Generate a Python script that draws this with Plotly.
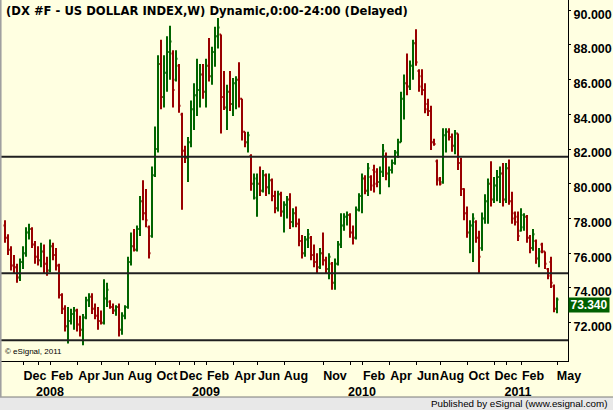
import plotly.graph_objects as go

# Weekly OHLC bars, DX #F (Oct 2007 - May 2011)
opens = [77.6, 76.9, 76.2, 75.3, 75.2, 74.6, 75.5, 76.0, 77.2, 77.4,
         76.5, 75.8, 75.6, 76.1, 75.4, 75.0, 76.4, 75.9, 75.3, 73.6,
         72.8, 71.8, 72.1, 72.5, 72.7, 71.9, 71.6, 72.3, 73.3, 73.5,
         72.8, 72.4, 72.1, 72.0, 73.4, 73.2, 72.9, 72.7, 72.9, 71.6,
         72.4, 72.9, 75.5, 76.4, 76.2, 77.4, 79.0, 78.3, 77.5, 77.0,
         80.5, 82.0, 86.9, 85.0, 86.4, 87.6, 87.5, 86.0, 86.8, 84.0,
         81.9, 81.5, 82.4, 84.3, 85.1, 85.4, 86.3, 85.3, 86.8, 86.2,
         87.6, 88.5, 88.6, 85.0, 84.4, 85.3, 84.6, 85.8, 86.0, 84.9,
         83.0, 82.4, 81.6, 80.0, 79.2, 80.0, 79.6, 80.5, 79.8, 80.2,
         79.3, 78.6, 79.4, 78.4, 78.8, 79.1, 77.8, 78.3, 77.7, 76.7,
         76.0, 76.8, 76.9, 75.9, 75.5, 75.2, 76.0, 75.6, 75.1, 75.4,
         74.3, 75.4, 76.5, 77.6, 78.1, 78.2, 77.2, 76.9, 78.5, 79.3,
         80.3, 79.6, 80.4, 80.8, 80.7, 80.1, 80.7, 81.6, 80.6, 80.8,
         81.2, 81.8, 82.4, 84.9, 85.8, 85.6, 86.8, 88.1, 86.5, 86.2,
         85.4, 84.6, 84.2, 82.4, 81.3, 80.3, 80.1, 82.8, 83.0, 82.7,
         82.2, 82.9, 81.2, 79.7, 78.3, 77.2, 77.6, 77.8, 76.9, 76.3,
         78.0, 79.0, 80.0, 79.1, 79.9, 80.4, 80.6, 79.1, 80.9, 79.0,
         78.3, 78.1, 77.3, 77.5, 78.1, 76.9, 76.3, 76.7, 75.7, 76.5,
         76.1, 75.1, 75.5, 74.1, 72.8]
highs = [77.9, 77.1, 76.4, 75.9, 75.4, 75.7, 76.4, 77.5, 77.7, 77.5,
         76.7, 76.4, 76.6, 76.5, 75.8, 76.8, 76.6, 76.3, 75.4, 73.7,
         73.0, 72.9, 72.8, 72.9, 72.8, 72.4, 72.5, 73.5, 73.7, 73.7,
         73.1, 72.9, 72.7, 74.5, 74.3, 73.3, 73.1, 73.0, 73.1, 72.6,
         73.0, 75.8, 77.2, 77.4, 77.6, 79.3, 80.2, 79.7, 77.6, 81.0,
         83.3, 87.4, 88.3, 87.4, 88.5, 89.1, 87.7, 87.7, 86.9, 84.1,
         82.2, 82.7, 84.8, 85.8, 87.2, 86.9, 86.9, 87.2, 88.4, 87.9,
         89.05, 89.55, 88.6, 86.5, 85.7, 86.5, 86.1, 86.2, 87.0, 84.9,
         83.0, 83.0, 81.7, 80.6, 80.6, 81.0, 80.8, 80.6, 80.6, 80.3,
         79.6, 79.6, 79.55, 79.0, 79.3, 79.45, 78.6, 78.7, 78.0, 77.05,
         77.0, 77.4, 77.0, 76.5, 76.0, 76.3, 77.2, 75.8, 76.0, 75.5,
         75.7, 76.7, 78.3, 78.3, 78.4, 78.3, 77.6, 78.7, 79.45, 80.6,
         80.5, 81.2, 80.5, 81.1, 80.9, 81.0, 82.3, 81.8, 81.0, 81.4,
         81.95, 82.6, 85.3, 86.3, 87.5, 87.1, 88.3, 88.9, 86.6, 86.6,
         85.8, 84.9, 84.5, 82.6, 81.4, 80.4, 83.2, 83.2, 83.2, 82.9,
         83.1, 82.9, 81.5, 79.75, 78.7, 77.9, 78.3, 77.9, 77.3, 78.35,
         79.4, 80.3, 81.3, 80.4, 80.8, 81.0, 81.2, 81.2, 81.4, 79.55,
         78.4, 78.4, 78.6, 78.3, 78.2, 77.05, 77.4, 76.8, 76.3, 76.6,
         76.1, 75.15, 75.8, 74.2, 73.45]
lows = [76.6, 75.9, 75.0, 74.8, 74.3, 74.4, 75.1, 75.8, 76.8, 76.3,
        75.4, 75.3, 75.2, 74.8, 74.7, 74.9, 75.6, 75.0, 73.4, 72.5,
        71.5, 70.8, 71.9, 71.6, 71.5, 71.2, 70.7, 72.2, 72.9, 72.5,
        72.2, 71.6, 71.9, 71.9, 72.9, 72.8, 72.5, 72.4, 71.2, 71.3,
        72.2, 72.8, 75.3, 76.1, 76.1, 77.0, 77.9, 77.5, 75.7, 76.9,
        80.4, 81.8, 84.3, 84.4, 85.3, 86.0, 84.4, 85.9, 84.1, 78.5,
        81.2, 80.1, 82.1, 83.1, 83.9, 84.4, 84.9, 84.4, 85.9, 85.7,
        86.75, 87.8, 82.9, 84.25, 83.1, 84.2, 83.9, 84.3, 84.4, 82.5,
        82.1, 81.8, 79.6, 79.1, 78.1, 79.3, 79.5, 79.3, 79.4, 79.0,
        78.3, 78.4, 78.1, 77.2, 78.0, 77.4, 77.5, 77.5, 76.4, 75.7,
        75.8, 76.3, 75.6, 75.2, 74.85, 75.1, 75.3, 74.85, 74.5, 73.9,
        73.9, 75.3, 76.3, 77.3, 77.6, 76.9, 76.5, 76.8, 78.4, 78.3,
        79.4, 79.3, 79.6, 79.5, 79.8, 79.4, 80.4, 80.2, 79.8, 80.6,
        81.1, 81.5, 82.4, 83.7, 85.1, 85.4, 86.0, 86.8, 85.3, 85.1,
        84.06, 83.9, 81.95, 82.2, 79.9, 79.9, 80.0, 81.8, 82.5, 81.85,
        81.7, 80.8, 79.3, 77.9, 76.9, 76.0, 75.5, 76.6, 74.85, 76.15,
        77.7, 77.7, 78.7, 78.9, 79.0, 78.9, 78.7, 78.9, 78.8, 77.7,
        77.6, 76.7, 77.25, 77.3, 76.6, 76.0, 76.15, 75.4, 75.2, 76.0,
        75.1, 74.5, 74.0, 72.6, 72.55]
closes = [76.9, 76.2, 75.3, 75.2, 74.6, 75.5, 76.0, 77.2, 77.4, 76.5,
          75.8, 75.6, 76.1, 75.4, 75.0, 76.4, 75.9, 75.3, 73.6, 72.8,
          71.8, 72.1, 72.5, 72.7, 71.9, 71.6, 72.3, 73.3, 73.5, 72.8,
          72.4, 72.1, 72.0, 73.4, 73.9, 72.9, 72.7, 72.9, 71.6, 72.4,
          72.9, 75.5, 76.4, 76.2, 77.4, 79.0, 78.3, 77.9, 76.0, 80.5,
          82.0, 86.9, 85.0, 86.4, 87.6, 88.2, 85.4, 87.2, 84.5, 81.9,
          81.5, 82.4, 84.3, 85.1, 85.4, 86.3, 85.3, 86.8, 86.2, 87.6,
          88.5, 89.0, 85.0, 84.4, 85.3, 84.6, 85.8, 86.0, 84.9, 83.0,
          82.4, 82.8, 80.0, 80.3, 80.0, 79.6, 80.5, 79.8, 80.2, 79.3,
          78.6, 79.4, 78.4, 78.8, 79.1, 77.8, 78.3, 77.7, 76.7, 76.0,
          76.8, 77.1, 75.9, 75.5, 75.2, 76.0, 75.6, 75.1, 75.8, 74.3,
          75.4, 76.5, 77.6, 78.1, 78.2, 77.2, 76.9, 78.5, 79.3, 80.3,
          79.6, 80.9, 79.9, 80.0, 80.1, 80.7, 81.9, 80.6, 80.8, 81.2,
          81.8, 82.4, 84.9, 85.8, 85.6, 86.8, 88.1, 87.0, 85.6, 85.4,
          84.3, 84.2, 82.4, 82.3, 80.2, 80.0, 82.8, 83.0, 82.7, 82.2,
          82.9, 81.2, 79.7, 78.3, 77.2, 77.6, 78.0, 76.9, 75.8, 78.0,
          79.0, 80.0, 79.1, 79.9, 80.4, 80.6, 79.1, 80.9, 79.0, 78.0,
          77.8, 77.0, 78.2, 78.1, 76.9, 76.3, 77.1, 75.7, 76.1, 76.1,
          75.4, 74.7, 74.3, 72.8, 73.34]
bar_index = list(range(len(closes)))

# user-drawn horizontal levels
h_levels = [81.56, 74.85, 70.99]

# price axis ticks
y_ticks = [72, 74, 76, 78, 80, 82, 84, 86, 88, 90]
y_ticktext = ["72.000", "74.000", "76.000", "78.000", "80.000",
              "82.000", "84.000", "86.000", "88.000", "90.000"]

# time axis ticks (bar index of first weekly bar of the month)
month_ticks = [6, 15, 24, 32, 41, 50, 58, 67, 76, 84, 93, 106, 119, 128, 137,
               145, 154, 163, 172, 184]
month_text = ["Dec", "Feb", "Apr", "Jun", "Aug", "Oct", "Dec", "Feb", "Apr",
              "Jun", "Aug", "Nov", "Feb", "Apr", "Jun", "Aug", "Oct", "Dec",
              "Feb", "May"]
year_ticks = [11, 63, 115, 167]
year_text = ["2008", "2009", "2010", "2011"]

last_price = closes[-1]
title_text = "(DX #F - US DOLLAR INDEX,W) Dynamic,0:00-24:00 (Delayed)"

GREEN = "#006400"
RED = "#990000"
BG = "#FFFFE1"

ticks = sorted([(v, t) for v, t in zip(month_ticks, month_text)] +
               [(v, "\u00a0<br>" + t) for v, t in zip(year_ticks, year_text)])

fig = go.Figure(go.Ohlc(
    x=bar_index, open=opens, high=highs, low=lows, close=closes,
    increasing=dict(line=dict(color=GREEN, width=2)),
    decreasing=dict(line=dict(color=RED, width=2)),
    tickwidth=0.5, hoverinfo="skip", showlegend=False,
))

W, H = 613, 410
ml, mr, mt, mb = 0, 45, 0, 49
plot_w = W - ml - mr
plot_h = H - mt - mb

for lv in h_levels:
    fig.add_shape(type="line", xref="paper", x0=0, x1=1, yref="y", y0=lv, y1=lv,
                  line=dict(color="#202020", width=2))

def px_y(py):
    return (H - mb - py) / plot_h

# bottom status bar
fig.add_shape(type="rect", xref="paper", yref="paper", x0=-0.01, x1=W / plot_w + 0.01,
              y0=px_y(411), y1=px_y(397), fillcolor="#E8E8E8", line=dict(width=0), layer="below")
fig.add_shape(type="line", xref="paper", yref="paper", x0=-0.01, x1=W / plot_w + 0.01,
              y0=px_y(397), y1=px_y(397), line=dict(color="#7A7A7A", width=1))
# left border
fig.add_shape(type="line", xref="paper", yref="paper", x0=0.001, x1=0.001,
              y0=px_y(397), y1=1, line=dict(color="#A0A0A0", width=2))

fig.add_annotation(xref="paper", yref="paper", x=0, y=1, xanchor="left", yanchor="top",
                   xshift=4, yshift=-2, showarrow=False,
                   text="<b>" + title_text + "</b>",
                   font=dict(family="DejaVu Sans", size=11.6, color="black"))
fig.add_annotation(xref="paper", yref="paper", x=0, y=0, xanchor="left", yanchor="bottom",
                   xshift=3, yshift=3, showarrow=False, text="\u00a9 eSignal, 2011",
                   font=dict(family="Liberation Sans", size=8, color="black"))
fig.add_annotation(xref="paper", yref="paper", x=609 / plot_w, y=px_y(403.5), xanchor="right",
                   yanchor="middle", showarrow=False,
                   text="Published by eSignal (www.esignal.com)",
                   font=dict(family="Liberation Sans", size=9.8, color="black"))
fig.add_annotation(xref="paper", yref="y", x=1, y=last_price, xanchor="left", yanchor="middle",
                   yshift=-6, showarrow=False, text="<b>%.3f</b>" % last_price,
                   bgcolor="#006000", borderpad=0, height=14, width=40,
                   font=dict(family="Liberation Sans", size=12, color="white"))

fig.update_layout(
    width=W, height=H,
    margin=dict(l=ml, r=mr, t=mt, b=mb, pad=0),
    paper_bgcolor=BG, plot_bgcolor=BG,
    xaxis=dict(range=[-5 / 3, (plot_w - 5) / 3], rangeslider=dict(visible=False),
               tickvals=[v for v, _ in ticks], ticktext=[t for _, t in ticks],
               tickangle=0, ticks="outside", ticklen=3, tickcolor="black",
               showgrid=False, zeroline=False, showline=True, linecolor="black", linewidth=1,
               ticklabelshift=12,
               tickfont=dict(family="Liberation Sans", size=12.5, color="black", weight="bold")),
    yaxis=dict(range=[69.794, 90.589], side="right", tickvals=y_ticks, ticktext=y_ticktext,
               ticks="outside", ticklen=2, tickcolor="black", showgrid=False, zeroline=False,
               showline=True, linecolor="black", linewidth=1, ticklabelshift=4,
               tickfont=dict(family="Liberation Sans", size=12.5, color="black", weight="bold")),
)

fig.write_html("out.html")
